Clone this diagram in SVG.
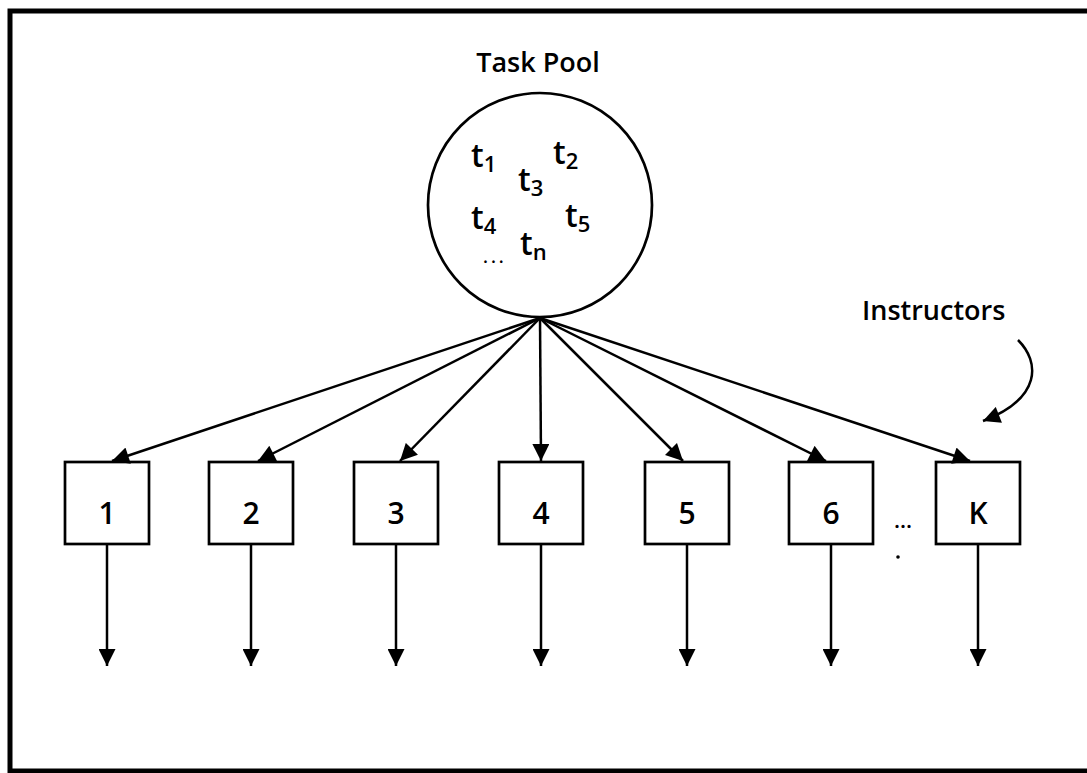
<svg xmlns="http://www.w3.org/2000/svg" width="1087" height="773" viewBox="0 0 1087 773">
  <style>
    .frame { fill: none; stroke: #000; stroke-width: 5; }
    .pool { fill: #fff; stroke: #000; stroke-width: 2.7; }
    .box { fill: #fff; stroke: #000; stroke-width: 2.7; }
    .edge { fill: none; stroke: #000; stroke-width: 2.5; }
    .lbl { font-family: "Open Sans", "Liberation Sans", sans-serif; fill: #000; font-weight: 600; }
    .title { font-size: 27px; }
    .task { font-size: 32px; }
    .sub { font-size: 22px; }
    .num { font-size: 30px; text-anchor: middle; }
  </style>
  <defs>
    <marker id="head" viewBox="0 0 10 10" refX="10" refY="5" markerWidth="18" markerHeight="17" markerUnits="userSpaceOnUse" orient="auto">
      <path d="M0,0 L10,5 L0,10 z" fill="#000"/>
    </marker>
  </defs>

  <rect class="frame" x="10" y="11" width="1110" height="760"/>

  <!-- task pool -->
  <g id="pool">
    <text class="lbl title" x="538" y="72" text-anchor="middle">Task Pool</text>
    <circle class="pool" cx="540" cy="205" r="112"/>
    <text class="lbl task" x="471" y="167">t<tspan class="sub" dy="5">1</tspan></text>
    <text class="lbl task" x="553" y="164">t<tspan class="sub" dy="5">2</tspan></text>
    <text class="lbl task" x="518" y="191">t<tspan class="sub" dy="5">3</tspan></text>
    <text class="lbl task" x="471" y="229">t<tspan class="sub" dy="5">4</tspan></text>
    <text class="lbl task" x="565" y="227">t<tspan class="sub" dy="5">5</tspan></text>
    <text class="lbl" x="483" y="263" font-size="18" letter-spacing="3">...</text>
    <text class="lbl task" x="520" y="255">t<tspan class="sub" dy="5">n</tspan></text>
  </g>

  <!-- instructors -->
  <g id="n1"><rect class="box" x="65" y="462" width="84" height="82"/><text class="lbl num" x="107" y="524">1</text></g>
  <g id="n2"><rect class="box" x="209" y="462" width="84" height="82"/><text class="lbl num" x="251" y="524">2</text></g>
  <g id="n3"><rect class="box" x="354" y="462" width="84" height="82"/><text class="lbl num" x="396" y="524">3</text></g>
  <g id="n4"><rect class="box" x="499" y="462" width="84" height="82"/><text class="lbl num" x="541" y="524">4</text></g>
  <g id="n5"><rect class="box" x="645" y="462" width="84" height="82"/><text class="lbl num" x="687" y="524">5</text></g>
  <g id="n6"><rect class="box" x="789" y="462" width="84" height="82"/><text class="lbl num" x="831" y="524">6</text></g>
  <g id="nK"><rect class="box" x="936" y="462" width="84" height="82"/><text class="lbl num" x="978" y="524">K</text></g>

  <g id="ellipsis">
    <text class="lbl" x="894" y="528" font-size="22">...</text>
    <circle cx="898" cy="557" r="1.8" fill="#000"/>
  </g>

  <g id="note">
    <text class="lbl title" x="862" y="320">Instructors</text>
  </g>

  <!-- connectors -->
  <g id="connectors">
    <line class="edge" x1="540" y1="318" x2="112" y2="461" marker-end="url(#head)"/>
    <line class="edge" x1="540" y1="318" x2="258" y2="461" marker-end="url(#head)"/>
    <line class="edge" x1="540" y1="318" x2="400" y2="461" marker-end="url(#head)"/>
    <line class="edge" x1="540" y1="318" x2="541" y2="461" marker-end="url(#head)"/>
    <line class="edge" x1="540" y1="318" x2="683" y2="461" marker-end="url(#head)"/>
    <line class="edge" x1="540" y1="318" x2="826" y2="461" marker-end="url(#head)"/>
    <line class="edge" x1="540" y1="318" x2="970" y2="461" marker-end="url(#head)"/>

    <line class="edge" x1="107" y1="544" x2="107" y2="666" marker-end="url(#head)"/>
    <line class="edge" x1="251" y1="544" x2="251" y2="666" marker-end="url(#head)"/>
    <line class="edge" x1="396" y1="544" x2="396" y2="666" marker-end="url(#head)"/>
    <line class="edge" x1="541" y1="544" x2="541" y2="666" marker-end="url(#head)"/>
    <line class="edge" x1="687" y1="544" x2="687" y2="666" marker-end="url(#head)"/>
    <line class="edge" x1="831" y1="544" x2="831" y2="666" marker-end="url(#head)"/>
    <line class="edge" x1="978" y1="544" x2="978" y2="666" marker-end="url(#head)"/>

    <path class="edge" d="M1018,340 C1040,362 1042,398 983,421" marker-end="url(#head)"/>
  </g>
</svg>
